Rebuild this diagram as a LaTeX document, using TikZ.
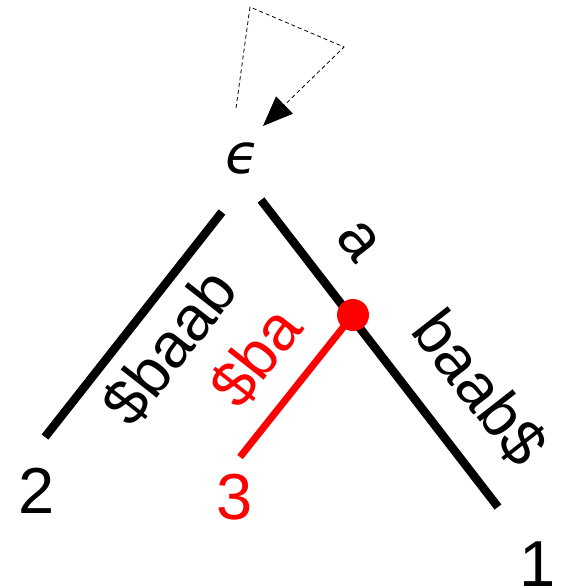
\documentclass[tikz,border=0pt]{standalone}
\usepackage{fontspec}
\setmainfont{Liberation Sans}
\newfontfamily\dvfont{DejaVu Sans}
\usetikzlibrary{arrows.meta}
\begin{document}
\begin{tikzpicture}[x=1pt,y=-1pt,
  edge/.style={line width=8.5pt},
  redge/.style={line width=7pt, red},
  lbl/.style={font=\fontsize{63}{63}\selectfont, inner sep=0pt},
  leaf/.style={font=\fontsize{65}{65}\selectfont, inner sep=0pt},
  loop/.style={line width=0.8pt, dash pattern=on 4pt off 3pt}]
\useasboundingbox (0,0) rectangle (562,588);
\node[inner sep=0pt, font=\dvfont\itshape\fontsize{55}{55}\selectfont] (eps) at (242,158) {ϵ};
\coordinate (l0) at (222,212);
\coordinate (l1) at (45,437);
\coordinate (r0) at (261,200);
\coordinate (r1) at (498,507);
\coordinate (mid) at (353,315);
\coordinate (r3) at (240,457);
\draw[edge] (l0) -- (l1);
\draw[edge] (r0) -- (r1);
\draw[redge] (mid) -- (r3);
\fill[red] (mid) circle (16);
\coordinate (d0) at (236,108);
\coordinate (d1) at (250,7);
\coordinate (d2) at (344,47);
\coordinate (d3) at (263,126);
\draw[loop, -{Triangle[length=30pt,width=24pt]}] (d0) -- (d1) -- (d2) -- (d3);
\node[leaf] (n2) at (37,491) {2};
\node[leaf, red] (n3) at (235,497) {3};
\node[leaf] (n1) at (538,564) {1};
\node[lbl, rotate=52] (t1) at (170,347) {\$baab};
\node[lbl, rotate=52, red] (t2) at (256,357) {\$ba};
\node[lbl, rotate=-52] (t3) at (358,241) {a};
\node[lbl, rotate=-52] (t4) at (480,388) {baab\$};
\end{tikzpicture}
\end{document}
